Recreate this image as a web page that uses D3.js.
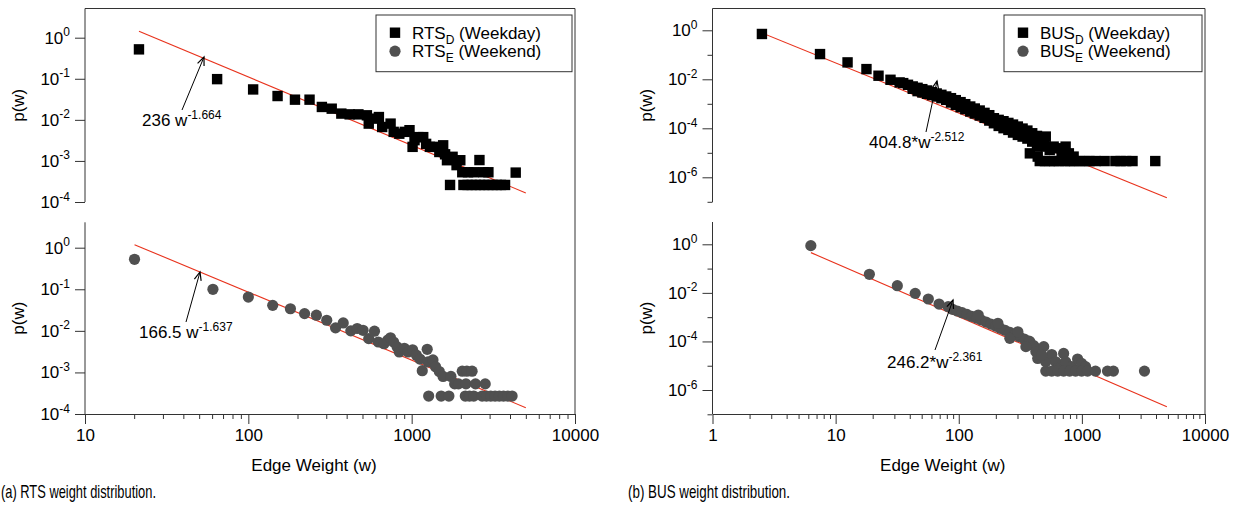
<!DOCTYPE html>
<html><head><meta charset="utf-8">
<script src="https://cdn.jsdelivr.net/npm/d3@7"></script>
<style>
body{margin:0;background:#fff}
svg{display:block}
text{font-family:"Liberation Sans",Arial,Helvetica,sans-serif;fill:#000}
</style>
</head><body>
<svg id="c" width="1243" height="507"></svg>
<script>
// ---------------- DATA ----------------
// RTS weekday (squares)
const rtsD_w = [21.4,64.4,107,151,193,237,282,324,371,417,472,532,546,608,630,660,743,776,840,907,970,1013,1041,1098,1177,1226,1293,1364,1477,1559,1602,1645,1718,1780,1883,1985,2041,2214,2400,2600,2753,2950,2075,2200,2330,2470,2620,2780,2950,3130,3320,3520,3730,4335];
const rtsD_p = [0.52,0.098,0.055,0.038,0.031,0.031,0.0206,0.0187,0.0142,0.0136,0.0136,0.0129,0.0081,0.0107,0.0117,0.0067,0.0081,0.0051,0.0046,0.0051,0.0056,0.0022,0.0032,0.0038,0.0038,0.0026,0.0022,0.0022,0.00165,0.0024,0.00145,0.00104,0.00026,0.00126,0.00079,0.00104,0.00053,0.00053,0.00053,0.00105,0.00053,0.00053,0.00026,0.00026,0.00026,0.00026,0.00026,0.00026,0.00026,0.00026,0.00026,0.00026,0.00026,0.00052];
// RTS weekend (circles)
const rtsE_w = [20.1,60.7,100,141,181,221,261,302,342,381,424,464,504,546,592,625,677,715,742,775,815,840,902,951,1013,1070,1123,1161,1245,1260,1350,1400,1477,1557,1271,1516,1690,1740,1834,1935,2041,2177,2344,2150,2460,2820,2130,2260,2400,2700,2870,3050,3240,3440,3650,3880,4120];
const rtsE_p = [0.525,0.1,0.065,0.041,0.034,0.026,0.0238,0.018,0.0118,0.0155,0.01,0.0114,0.0103,0.0065,0.0098,0.0054,0.0049,0.006,0.0068,0.0054,0.0041,0.0031,0.0038,0.0031,0.0035,0.0026,0.0021,0.0011,0.0036,0.0018,0.002,0.00137,0.00105,0.0008,0.00027,0.00027,0.00027,0.0008,0.00053,0.00053,0.00107,0.00107,0.00107,0.00053,0.00053,0.00053,0.00027,0.00027,0.00027,0.00027,0.00027,0.00027,0.00027,0.00027,0.00027,0.00027,0.00027];
// BUS weekday (squares)
const busD_w = [2.52,7.47,12.5,17.8,22.3,27.9,33.1,
  35.4,38.7,42.3,42.3,46.3,46.3,50.6,50.6,55.3,55.3,60.5,60.5,66.2,66.2,72.3,72.3,79.1,79.1,86.5,86.5,94.6,94.6,103.5,103.5,113,113,124,124,135,135,148,148,162,162,177,177,193,193,211,211,231,231,253,253,276,276,302,302,330,330,361,361,395,395,432,432,
  455,490,509,548,590,636,685,738,784,857,378,438,509,
  455,501,548,597,650,728,796,869,958,1055,1153,1290,1531,1872,2062,2290,2578,3945];
const busD_p = [0.708,0.107,0.049,0.0261,0.014,0.00957,0.00745,
  6.99e-3,5.97e-3,5.11e-3,4.10e-3,4.50e-3,3.29e-3,3.97e-3,2.90e-3,3.50e-3,2.56e-3,2.99e-3,2.26e-3,2.64e-3,1.99e-3,2.33e-3,1.70e-3,1.99e-3,1.45e-3,1.70e-3,1.13e-3,1.41e-3,9.08e-4,1.17e-3,7.28e-4,9.66e-4,6.03e-4,7.75e-4,4.84e-4,6.42e-4,4.01e-4,5.32e-4,3.32e-4,4.27e-4,2.67e-4,3.43e-4,2.07e-4,2.58e-4,1.61e-4,2.21e-4,1.25e-4,1.95e-4,1.01e-4,1.66e-4,8.6e-5,1.42e-4,6.69e-5,1.18e-4,5.37e-5,9.75e-5,4.59e-5,8.07e-5,3.80e-5,6.28e-5,2.86e-5,4.89e-5,1.79e-5,
  2.86e-5,3.35e-5,1.79e-5,1.31e-5,1.79e-5,1.53e-5,1.12e-5,1.79e-5,9.5e-6,7.0e-6,9.5e-6,7.0e-6,4.6e-5,
  4.6e-6,4.6e-6,4.6e-6,4.6e-6,4.6e-6,4.6e-6,4.6e-6,4.6e-6,4.6e-6,4.6e-6,4.6e-6,4.6e-6,4.6e-6,4.6e-6,4.6e-6,4.6e-6,4.6e-6,4.6e-6];
// BUS weekend (circles)
const busE_w = [6.29,18.8,31.7,44.3,56.6,69.2,82.1,
  89.1,97.4,106.5,116.5,127.4,139.3,152.3,166.6,182.0,199.1,217.7,238.1,260.4,284.7,311.3,340.4,372.3,
  291,378,407,423,490,438,509,569,613,636,711,738,826,923,995,1071,260,351,472,144,208,302,
  509,569,636,711,795,889,995,1112,1290,1614,1803,3223];
const busE_p = [0.881,0.058,0.0198,0.00957,0.00559,0.00347,0.0027,
  2.10e-3,1.79e-3,1.53e-3,1.30e-3,1.08e-3,9.21e-4,7.62e-4,6.30e-4,5.21e-4,4.31e-4,3.45e-4,2.86e-4,2.37e-4,1.95e-4,1.57e-4,1.26e-4,1.04e-4,
  1.84e-4,9.7e-5,6.7e-5,3.8e-5,6.1e-5,2.0e-5,1.46e-5,2.9e-5,1.46e-5,7.8e-6,3.2e-5,1.46e-5,9.1e-6,1.88e-5,1.25e-5,9.1e-6,1.34e-4,6.1e-5,2.75e-5,0.00122,5.6e-4,2.5e-4,
  6.0e-6,6.0e-6,6.0e-6,6.0e-6,6.0e-6,6.0e-6,6.0e-6,6.0e-6,6.0e-6,6.0e-6,6.0e-6,6.0e-6];

// fitted power-law lines, endpoints [w, p]
const rtsD_fit = [[21.4,1.43],[5000,1.66e-4]];
const rtsE_fit = [[20.1,1.18],[5000,1.42e-4]];
const busD_fit = [[2.52,0.78],[4900,1.47e-7]];
const busE_fit = [[6.3,0.454],[4900,2.04e-7]];

// fit annotations
const rtsD_note = ["236 w", "-1.664"];
const rtsE_note = ["166.5 w", "-1.637"];
const busD_note = ["404.8*w", "-2.512"];
const busE_note = ["246.2*w", "-2.361"];

// tick labels
const rtsXTicks = [10, 100, 1000, 10000];
const busXTicks = [1, 10, 100, 1000, 10000];
const rtsYExp = [0, -1, -2, -3, -4];
const busYExp = [0, -2, -4, -6];
const busYMinorExp = [-1, -3, -5, -7];

const legendRTS = [["RTS","D"," (Weekday)"],["RTS","E"," (Weekend)"]];
const legendBUS = [["BUS","D"," (Weekday)"],["BUS","E"," (Weekend)"]];
const captions = ["(a) RTS weight distribution.", "(b) BUS weight distribution."];
const xTitle = "Edge Weight (w)";
const yTitle = "p(w)";

// ---------------- LAYOUT ----------------
const svg = d3.select("#c");
svg.append("rect").attr("width",1243).attr("height",507).attr("fill","#fff");
const AX = "#333";
const RED = "#e8321c";
const GREY = "#505050";
const FS = 17, FSS = 12;
const SQ = 10.4, CR = 5.6;

const groups = [
  { xd:[10,10000], xr:[85,575], xt:rtsXTicks, legend:legendRTS, legendBox:[376,15,572,71.7], caption:captions[0], capX:1, capW:155,
    top:{ w:rtsD_w, p:rtsD_p, fit:rtsD_fit, note:rtsD_note, shape:"sq", yd:[1e-4,1], yr:[202,37.7], spine:[8.5,202], major:rtsYExp, minor:[],
          ann:{tip:[204,57], tail:[182,110], text:[142,126]} },
    bot:{ w:rtsE_w, p:rtsE_p, fit:rtsE_fit, note:rtsE_note, shape:"ci", yd:[1e-4,1], yr:[414,247.7], spine:[222.3,414], major:rtsYExp, minor:[],
          ann:{tip:[200,272], tail:[186,322], text:[139,338]} } },
  { xd:[1,10000], xr:[712.5,1205], xt:busXTicks, legend:legendBUS, legendBox:[1004,15,1202,71.7], caption:captions[1], capX:628, capW:162,
    top:{ w:busD_w, p:busD_p, fit:busD_fit, note:busD_note, shape:"sq", yd:[1e-7,1], yr:[201.8,30.3], spine:[8.5,202], major:busYExp, minor:busYMinorExp,
          ann:{tip:[937,81], tail:[926,132], text:[869,148]} },
    bot:{ w:busE_w, p:busE_p, fit:busE_fit, note:busE_note, shape:"ci", yd:[1e-7,1], yr:[414.3,244.3], spine:[222,414], major:busYExp, minor:busYMinorExp,
          ann:{tip:[953,300], tail:[935,350], text:[887,368]} } }
];

groups.forEach(g => {
  const x = d3.scaleLog().domain(g.xd).range(g.xr);
  const L = g.xr[0], R = g.xr[1];

  svg.append("line").attr("x1",L).attr("x2",R).attr("y1",8.5).attr("y2",8.5).attr("stroke",AX);
  svg.append("line").attr("x1",R).attr("x2",R).attr("y1",8.5).attr("y2",414).attr("stroke",AX);

  [g.top, g.bot].forEach(pn => {
    const y = d3.scaleLog().domain(pn.yd).range(pn.yr);
    svg.append("line").attr("x1",L).attr("x2",L).attr("y1",pn.spine[0]).attr("y2",pn.spine[1]).attr("stroke",AX);
    const ya = d3.axisLeft(y).tickValues(pn.major.map(e=>Math.pow(10,e))).tickSize(10).tickSizeOuter(0).tickFormat("");
    const yg = svg.append("g").attr("transform",`translate(${L},0)`).call(ya);
    yg.select(".domain").remove();
    yg.selectAll("line").attr("stroke",AX);
    if (pn.minor.length) {
      const ym = d3.axisLeft(y).tickValues(pn.minor.map(e=>Math.pow(10,e))).tickSize(5).tickSizeOuter(0).tickFormat("");
      const ymg = svg.append("g").attr("transform",`translate(${L},0)`).call(ym);
      ymg.select(".domain").remove();
      ymg.selectAll("line").attr("stroke",AX);
    }
    pn.major.forEach(e => {
      const t = svg.append("text").attr("x",L-15).attr("y",y(Math.pow(10,e))+6)
        .attr("text-anchor","end").attr("font-size",FS);
      t.append("tspan").text("10");
      t.append("tspan").attr("font-size",FSS).attr("dy",-7.5).text(String(e));
    });
    const cy = (pn.spine[0]+pn.spine[1])/2;
    svg.append("text").attr("transform",`translate(${L-61},${cy}) rotate(-90)`)
      .attr("text-anchor","middle").attr("font-size",FS).text(yTitle);

    svg.append("path").datum(pn.fit)
      .attr("d", d3.line().x(d=>x(d[0])).y(d=>y(d[1])))
      .attr("stroke",RED).attr("stroke-width",1.1).attr("fill","none");

    const pts = pn.w.map((w,i)=>[w,pn.p[i]]);
    if (pn.shape==="sq") {
      svg.append("g").selectAll("rect").data(pts).join("rect")
        .attr("x",d=>x(d[0])-SQ/2).attr("y",d=>y(d[1])-SQ/2).attr("width",SQ).attr("height",SQ).attr("fill","#000");
    } else {
      svg.append("g").selectAll("circle").data(pts).join("circle")
        .attr("cx",d=>x(d[0])).attr("cy",d=>y(d[1])).attr("r",CR).attr("fill",GREY);
    }

    const a = pn.ann;
    svg.append("line").attr("x1",a.tail[0]).attr("y1",a.tail[1]).attr("x2",a.tip[0]).attr("y2",a.tip[1])
      .attr("stroke","#000").attr("stroke-width",1);
    const ang = Math.atan2(a.tip[1]-a.tail[1], a.tip[0]-a.tail[0]);
    const hl = 9, hw = 0.4;
    const h1 = [a.tip[0]-hl*Math.cos(ang-hw), a.tip[1]-hl*Math.sin(ang-hw)];
    const h2 = [a.tip[0]-hl*Math.cos(ang+hw), a.tip[1]-hl*Math.sin(ang+hw)];
    svg.append("path").attr("d",`M${h1[0]},${h1[1]}L${a.tip[0]},${a.tip[1]}L${h2[0]},${h2[1]}`)
      .attr("stroke","#000").attr("fill","none").attr("stroke-width",1.2);
    const nt = svg.append("text").attr("x",a.text[0]).attr("y",a.text[1]).attr("font-size",FS);
    nt.append("tspan").text(pn.note[0]);
    nt.append("tspan").attr("font-size",FSS).attr("dy",-7.5).text(pn.note[1]);
  });

  const xa = d3.axisBottom(x).tickValues(g.xt).tickSize(10).tickSizeOuter(0).tickFormat(d3.format("d")).tickPadding(5);
  const xg = svg.append("g").attr("transform",`translate(0,414)`).call(xa);
  xg.select(".domain").attr("stroke",AX);
  xg.selectAll("line").attr("stroke",AX);
  xg.selectAll("text").attr("font-size",FS).attr("font-family",'"Liberation Sans",Arial,sans-serif').attr("fill","#000");
  const minors = [];
  for (let d=g.xd[0]; d<g.xd[1]; d*=10) for (let k=2;k<=9;k++) minors.push(d*k);
  const xm = d3.axisBottom(x).tickValues(minors).tickSize(5).tickSizeOuter(0).tickFormat("");
  const xmg = svg.append("g").attr("transform",`translate(0,414)`).call(xm);
  xmg.select(".domain").remove();
  xmg.selectAll("line").attr("stroke",AX);

  svg.append("text").attr("x",(L+R)/2-16).attr("y",471).attr("text-anchor","middle").attr("font-size",FS).text(xTitle);

  const lb = g.legendBox;
  svg.append("rect").attr("x",lb[0]).attr("y",lb[1]).attr("width",lb[2]-lb[0]).attr("height",lb[3]-lb[1])
    .attr("fill","#fff").attr("stroke",AX).attr("stroke-width",1);
  g.legend.forEach((item,i) => {
    const yy = 32.7 + i*18.5;
    if (i===0) svg.append("rect").attr("x",lb[0]+19-SQ/2).attr("y",yy-SQ/2).attr("width",SQ).attr("height",SQ).attr("fill","#000");
    else svg.append("circle").attr("cx",lb[0]+19).attr("cy",yy).attr("r",CR).attr("fill",GREY);
    const t = svg.append("text").attr("x",lb[0]+36).attr("y",yy+6).attr("font-size",FS);
    t.append("tspan").text(item[0]);
    t.append("tspan").attr("font-size",FSS).attr("dy",5).text(item[1]);
    t.append("tspan").attr("dy",-5).text(item[2]);
  });

  svg.append("text").attr("x",g.capX).attr("y",498).attr("font-size",19)
    .attr("textLength",g.capW).attr("lengthAdjust","spacingAndGlyphs")
    .attr("font-family",'"DejaVu Sans Condensed","Liberation Sans",sans-serif').text(g.caption);
});
</script>
</body></html>
